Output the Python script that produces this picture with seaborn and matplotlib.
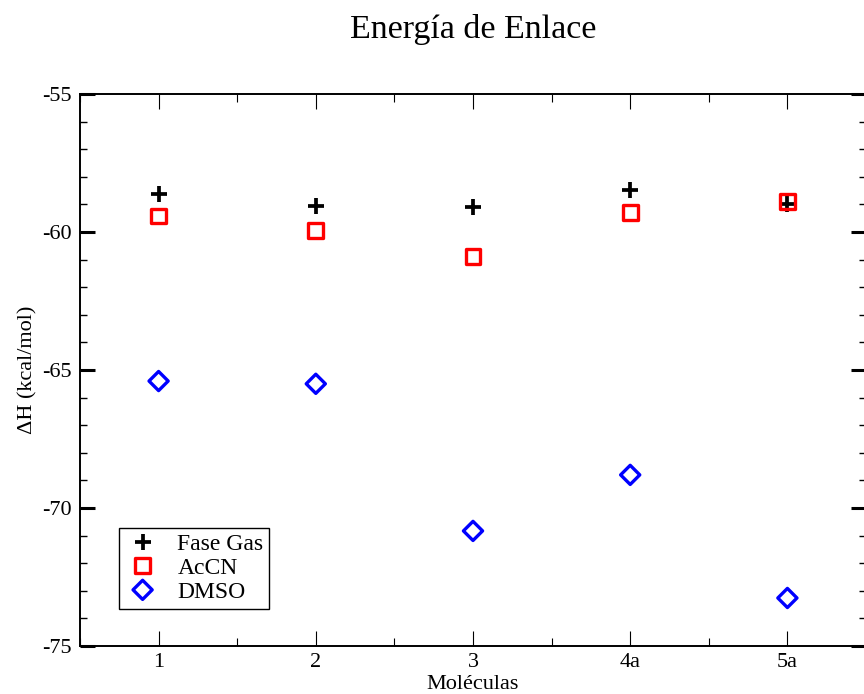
import matplotlib
matplotlib.use("Agg")
import matplotlib.pyplot as plt
import seaborn as sns
import pandas as pd
from matplotlib.ticker import MultipleLocator, AutoMinorLocator

# values
moleculas = ["1", "2", "3", "4a", "5a"]
fase_gas = [-58.62, -59.06, -59.09, -58.48, -58.99]
accn = [-59.42, -59.96, -60.90, -59.28, -58.90]
dmso = [-65.40, -65.50, -70.83, -68.80, -73.26]

df = pd.DataFrame({"Moléculas": moleculas, "Fase Gas": fase_gas,
                   "AcCN": accn, "DMSO": dmso})

sns.set_style("ticks")
plt.rcParams["font.family"] = ["Liberation Serif", "DejaVu Serif"]
plt.rcParams["axes.unicode_minus"] = False
plt.rcParams["text.color"] = "black"
plt.rcParams["axes.labelcolor"] = "black"

fig = plt.figure(figsize=(8.64, 6.94), dpi=100)
ax = fig.add_axes([80 / 864, 1 - 646 / 694, 786 / 864, 552 / 694])

sns.scatterplot(data=df, x="Moléculas", y="Fase Gas", marker="+", s=140,
                color="black", linewidth=2.7, label="Fase Gas", ax=ax, zorder=3)
sns.scatterplot(data=df, x="Moléculas", y="AcCN", marker="s", s=115,
                facecolors="none", edgecolor="red", linewidth=2.4,
                label="AcCN", ax=ax, zorder=4)
sns.scatterplot(data=df, x="Moléculas", y="DMSO", marker="D", s=95,
                facecolors="none", edgecolor="blue", linewidth=2.4,
                label="DMSO", ax=ax, zorder=4)

ax.set_xlim(-0.5, 4.5)
ax.set_ylim(-75, -55)
ax.yaxis.set_major_locator(MultipleLocator(5))
ax.yaxis.set_minor_locator(MultipleLocator(1))
ax.xaxis.set_minor_locator(AutoMinorLocator(2))

for s in ax.spines.values():
    s.set_visible(True)
    s.set_linewidth(1.4)
    s.set_color("black")

ax.tick_params(axis="both", which="both", direction="in", top=True, right=True,
               colors="black", labelsize=16)
ax.tick_params(axis="x", which="major", length=11, width=0.8, pad=5)
ax.tick_params(axis="x", which="minor", length=5.8, width=0.8)
ax.tick_params(axis="y", which="major", length=11, width=2.2, pad=6)
ax.tick_params(axis="y", which="minor", length=5, width=1.0)

ax.set_xlabel("Moléculas", fontsize=16, labelpad=2)
ax.set_ylabel("ΔH (kcal/mol)", fontsize=16, labelpad=3)
fig.text(473 / 864, 1 - 38 / 694, "Energía de Enlace", fontsize=24.5,
         ha="center", va="baseline")

leg = ax.legend(loc="lower left", bbox_to_anchor=(39 / 786, 37 / 552),
                borderaxespad=0, fontsize=17, frameon=True, fancybox=False,
                framealpha=1, edgecolor="black", handletextpad=0.72,
                borderpad=0.25, labelspacing=0.1, handlelength=1.5,
                scatterpoints=1, scatteryoffsets=[0.5])
leg.get_frame().set_linewidth(1.0)

fig.savefig("out.png", dpi=100)
